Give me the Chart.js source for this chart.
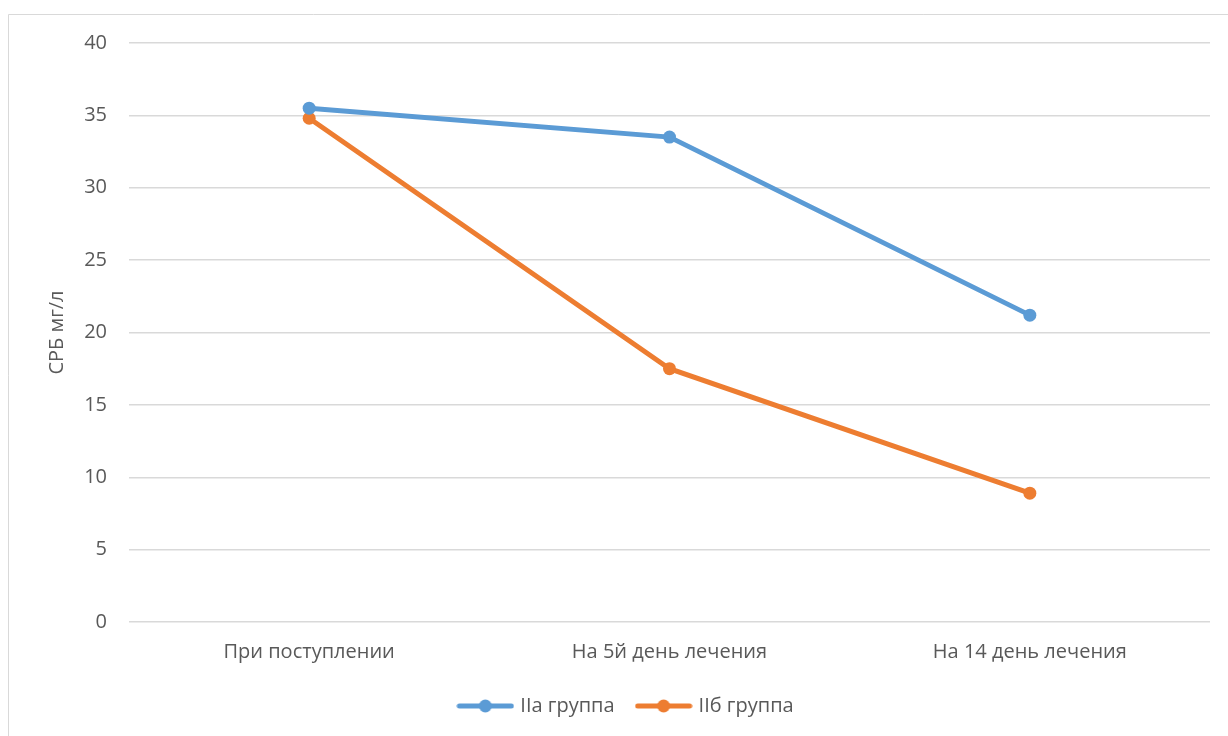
<!DOCTYPE html>
<html>
<head>
<meta charset="utf-8">
<script src="https://cdn.jsdelivr.net/npm/chart.js@4/dist/chart.umd.min.js"></script>
<style>
  html, body { margin: 0; padding: 0; background: #ffffff; }
  #wrap { width: 1228px; height: 736px; position: relative; }
</style>
</head>
<body>
<div id="wrap"><canvas id="c" width="1228" height="736"></canvas></div>
<script>
// Stages of treatment (x categories)
const stages = ['При поступлении', 'На 5й день лечения', 'На 14 день лечения'];
// CRP level, mg/l, per group
const groupIIa = [35.5, 33.5, 21.2];
const groupIIb = [34.8, 17.5, 8.9];
// Y-axis range
const yMin = 0, yMax = 40, yStep = 5;

const BLUE = '#5B9BD5';
const ORANGE = '#ED7D31';
const TEXT = '#595959';
const GRID = '#D9D9D9';
const FONT = "'Open Sans', 'Noto Sans', sans-serif";
const FS = 20;

// Legend marker: short line with a dot in the middle
function legendMarker(color) {
  const cv = document.createElement('canvas');
  cv.width = 58; cv.height = 14;
  const g = cv.getContext('2d');
  g.strokeStyle = color; g.lineWidth = 5; g.lineCap = 'round';
  g.beginPath(); g.moveTo(3, 7); g.lineTo(55, 7); g.stroke();
  g.fillStyle = color;
  g.beginPath(); g.arc(29, 7, 6.5, 0, Math.PI * 2); g.fill();
  return cv;
}

// Thin frame around the chart
const framePlugin = {
  id: 'frame',
  beforeDraw(chart) {
    const ctx = chart.ctx;
    ctx.save();
    ctx.fillStyle = '#ffffff';
    ctx.fillRect(0, 0, chart.width, chart.height);
    ctx.strokeStyle = GRID;
    ctx.lineWidth = 1;
    ctx.beginPath();
    ctx.moveTo(8.5, chart.height);
    ctx.lineTo(8.5, 14.5);
    ctx.lineTo(chart.width, 14.5);
    ctx.stroke();
    ctx.restore();
  }
};

new Chart(document.getElementById('c'), {
  type: 'line',
  data: {
    labels: stages,
    datasets: [
      {
        label: 'IIa группа',
        data: groupIIa,
        borderColor: BLUE,
        backgroundColor: BLUE,
        borderWidth: 5,
        pointRadius: 6.5,
        pointHoverRadius: 6.5,
        pointBorderWidth: 0,
        pointStyle: 'circle',
        tension: 0,
        borderCapStyle: 'round'
      },
      {
        label: 'IIб группа',
        data: groupIIb,
        borderColor: ORANGE,
        backgroundColor: ORANGE,
        borderWidth: 5,
        pointRadius: 6.5,
        pointHoverRadius: 6.5,
        pointBorderWidth: 0,
        pointStyle: 'circle',
        tension: 0,
        borderCapStyle: 'round'
      }
    ]
  },
  options: {
    responsive: false,
    animation: false,
    devicePixelRatio: 1,
    layout: { padding: { left: 44, right: 18, top: 43, bottom: 10 } },
    plugins: {
      tooltip: { enabled: false },
      legend: {
        position: 'bottom',
        labels: {
          usePointStyle: true,
          pointStyleWidth: 50,
          boxHeight: 14,
          padding: 24,
          color: TEXT,
          font: { family: FONT, size: FS },
          generateLabels(chart) {
            return chart.data.datasets.map((ds, i) => ({
              text: ds.label,
              pointStyle: legendMarker(ds.borderColor),
              fillStyle: ds.borderColor,
              strokeStyle: ds.borderColor,
              lineWidth: 0,
              fontColor: TEXT,
              hidden: false,
              datasetIndex: i
            }));
          }
        }
      }
    },
    scales: {
      x: {
        offset: true,
        grid: { display: false, drawTicks: false },
        border: { display: false },
        ticks: { color: TEXT, font: { family: FONT, size: FS }, padding: 18, maxRotation: 0 },
        afterFit(scale) { scale.height = 50; }
      },
      y: {
        min: yMin,
        max: yMax,
        ticks: { stepSize: yStep, color: TEXT, font: { family: FONT, size: FS }, padding: 22 },
        grid: { color: GRID, lineWidth: 1.5, drawTicks: false },
        border: { display: false },
        title: {
          display: true,
          text: 'СРБ мг/л',
          color: TEXT,
          font: { family: FONT, size: FS },
          padding: { top: 1, bottom: 0 }
        },
        afterFit(scale) { scale.width = 85; }
      }
    }
  },
  plugins: [framePlugin]
});
</script>
</body>
</html>
